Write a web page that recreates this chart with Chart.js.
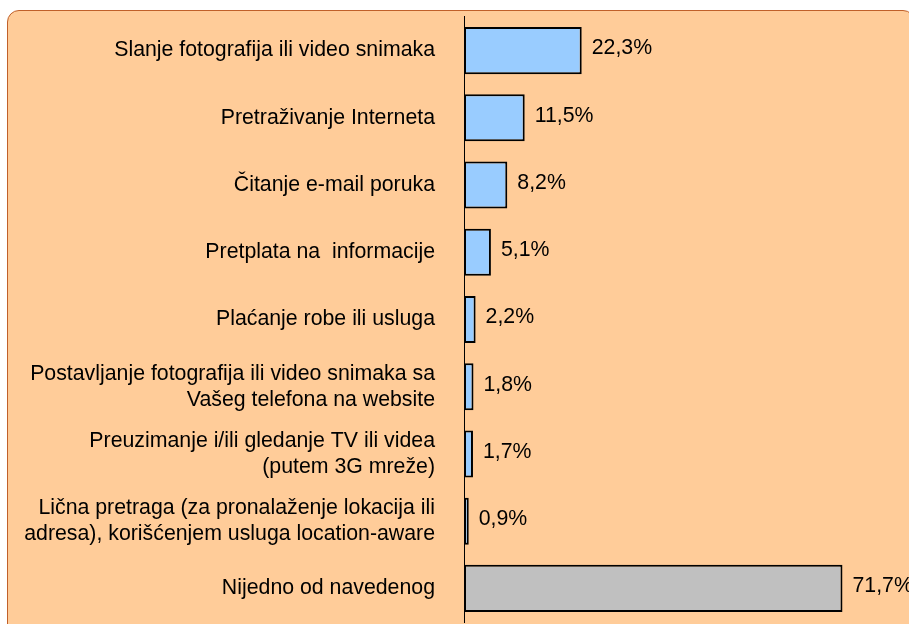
<!DOCTYPE html>
<html>
<head>
<meta charset="utf-8">
<script src="https://cdn.jsdelivr.net/npm/chart.js@4.4.1/dist/chart.umd.min.js"></script>
<style>
    html, body { margin: 0; padding: 0; background: #fff; overflow: hidden; }
    #box {
        position: absolute; left: 7px; top: 10px; width: 906px; height: 700px;
        background: #ffcc99; border: 1.5px solid #c0602a; border-radius: 12px;
    }
    #wrap { position: absolute; left: 0; top: -25px; width: 909px; height: 689px; }
</style>
</head>
<body>
<div id="box"></div>
<div id="wrap"><canvas id="barChart"></canvas></div>
<script>
var categories = [
    'Slanje fotografija ili video snimaka',
    'Pretraživanje Interneta',
    'Čitanje e-mail poruka',
    'Pretplata na  informacije',
    'Plaćanje robe ili usluga',
    ['Postavljanje fotografija ili video snimaka sa', 'Vašeg telefona na website'],
    ['Preuzimanje i/ili gledanje TV ili videa', '(putem 3G mreže)'],
    ['Lična pretraga (za pronalaženje lokacija ili', 'adresa), korišćenjem usluga location-aware'],
    'Nijedno od navedenog'
];
var values = [22.3, 11.5, 8.2, 5.1, 2.2, 1.8, 1.7, 0.9, 71.7];
var barColors = ['#99ccff', '#99ccff', '#99ccff', '#99ccff', '#99ccff', '#99ccff', '#99ccff', '#99ccff', '#c0c0c0'];

var fontFamily = '"Liberation Sans", Arial, sans-serif';

// value labels next to the bars
var valueLabels = {
    id: 'valueLabels',
    afterDatasetsDraw: function (chart) {
        var ctx = chart.ctx;
        var meta = chart.getDatasetMeta(0);
        ctx.save();
        ctx.font = '21.3px ' + fontFamily;
        ctx.fillStyle = '#000';
        ctx.textAlign = 'left';
        ctx.textBaseline = 'middle';
        meta.data.forEach(function (bar, i) {
            var txt = values[i].toFixed(1).replace('.', ',') + '%';
            ctx.fillText(txt, bar.x + 10, bar.y - 2);
        });
        ctx.restore();
    }
};

var ctx = document.getElementById('barChart').getContext('2d');
new Chart(ctx, {
    type: 'bar',
    data: {
        labels: categories,
        datasets: [{
            data: values,
            backgroundColor: barColors,
            borderColor: '#000',
            borderWidth: 2,
            borderSkipped: false,
            categoryPercentage: 1,
            barPercentage: 0.70
        }]
    },
    options: {
        indexAxis: 'y',
        responsive: true,
        maintainAspectRatio: false,
        animation: false,
        layout: { padding: { top: 17, bottom: 2, left: 0, right: 0 } },
        plugins: {
            legend: { display: false },
            tooltip: { enabled: false }
        },
        scales: {
            x: {
                display: false,
                min: 0,
                max: 84.3
            },
            y: {
                afterFit: function (scale) { scale.width = 464; },
                grid: { display: false, drawTicks: false },
                border: { display: true, color: '#000', width: 1 },
                ticks: {
                    padding: 29,
                    color: '#000',
                    font: { family: fontFamily, size: 21.3, lineHeight: 1.22 }
                }
            }
        }
    },
    plugins: [valueLabels]
});
</script>
</body>
</html>
